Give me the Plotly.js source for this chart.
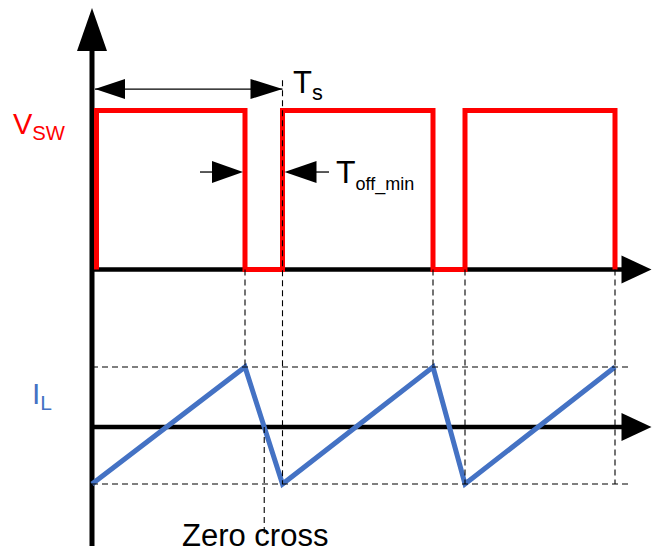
<!DOCTYPE html>
<html><head><meta charset="utf-8">
<script src="https://cdn.plot.ly/plotly-3.0.1.min.js"></script>
<style>html,body{margin:0;padding:0;background:#fff;}#chart{width:652px;height:555px;}</style>
</head><body><div id="chart"></div>
<script>
// ---- data (time in arbitrary units) ----
// Switch-node voltage V_SW: 0 = low, 1 = high
const vswTime  = [0.045, 0.045, 1.53, 1.53, 1.905, 1.905, 3.41, 3.41, 3.73, 3.73, 5.23, 5.23];
const vswLevel = [0, 1, 1, 0, 0, 1, 1, 0, 0, 1, 1, 0];
// Inductor current I_L corner points (normalised)
const ilTime  = [0, 1.53, 1.905, 3.41, 3.73, 5.23];
const ilValue = [-0.95, 1, -0.95, 1, -0.95, 1];
// labels
const labelVsw = 'V<sub>SW</sub>';
const labelIl = 'I<sub>L</sub>';
const labelTs = 'T<sub>s</sub>';
const labelToff = 'T<sub><span style="font-size:18px">off_min</span></sub>';
const labelZero = 'Zero cross';

// ---- layout helpers ----
const xR = [-0.92, 5.60];
const yR = [-1.796, 1.695];     // V_SW axis
const y2R = [-2.1333, 7.1167];  // I_L axis
const pY = v => (v - yR[0]) / (yR[1] - yR[0]);
const pY2 = v => (v - y2R[0]) / (y2R[1] - y2R[0]);
const FONT = 'Liberation Sans, Arial, sans-serif';

const ilPeak = Math.max(...ilValue), ilValley = Math.min(...ilValue);
// zero crossing of the first falling edge
const zc = ilTime[1] + (ilTime[2] - ilTime[1]) * (ilValue[1] / (ilValue[1] - ilValue[2]));
const tsLevel = 1.135, toffLevel = 0.613;

const dash = {color: '#000', width: 1.1, dash: '6px,4px'};
const shapes = [];
function vDash(x, p0, p1) { shapes.push({type:'line', xref:'x', yref:'paper', x0:x, x1:x, y0:p0, y1:p1, line:dash, layer:'above'}); }
vDash(ilTime[1], pY(0), pY2(ilPeak));
vDash(ilTime[2], pY(tsLevel + 0.055), pY2(ilValley));
vDash(ilTime[3], pY(0), pY2(ilPeak));
vDash(ilTime[4], pY(0), pY2(ilValley));
vDash(ilTime[5], pY(0), pY2(ilValley));
vDash(zc, pY2(0), 21/555);
[ilPeak, ilValley].forEach(v => shapes.push({type:'line', xref:'x', yref:'y2', x0:0, x1:5.40, y0:v, y1:v, line:dash, layer:'above'}));

// axes
shapes.push({type:'line', xref:'x', yref:'paper', x0:0, x1:0, y0:9/555, y1:1-46/555, line:{color:'#000', width:5}, layer:'below'});
shapes.push({type:'path', xref:'x', yref:'paper', xsizemode:'pixel', ysizemode:'pixel', xanchor:0, yanchor:1-8/555,
  path:'M0,0 L-15,-43 L15,-43 Z', fillcolor:'#000', line:{width:0}});
[['y',0],['y2',0]].forEach(([ref,v]) => {
  shapes.push({type:'line', xref:'x', yref:ref, x0:0, x1:5.33, y0:v, y1:v, line:{color:'#000', width:4.5}, layer:'below'});
  shapes.push({type:'path', xref:'x', yref:ref, xsizemode:'pixel', ysizemode:'pixel', xanchor:5.595, yanchor:v,
    path:'M0,0 L-30,14 L-30,-14 Z', fillcolor:'#000', line:{width:0}});
});
// Ts arrow
shapes.push({type:'line', xref:'x', yref:'y', x0:0.03, x1:ilTime[2], y0:tsLevel, y1:tsLevel, line:{color:'#000', width:1.3}});
shapes.push({type:'path', xref:'x', yref:'y', xsizemode:'pixel', ysizemode:'pixel', xanchor:0.03, yanchor:tsLevel,
  path:'M0,0 L30,10 L30,-10 Z', fillcolor:'#000', line:{width:0}});
shapes.push({type:'path', xref:'x', yref:'y', xsizemode:'pixel', ysizemode:'pixel', xanchor:ilTime[2], yanchor:tsLevel,
  path:'M0,0 L-32,10 L-32,-10 Z', fillcolor:'#000', line:{width:0}});
// Toff_min arrows
shapes.push({type:'line', xref:'x', yref:'y', x0:1.08, x1:ilTime[1]-0.3, y0:toffLevel, y1:toffLevel, line:{color:'#000', width:1.3}});
shapes.push({type:'path', xref:'x', yref:'y', xsizemode:'pixel', ysizemode:'pixel', xanchor:ilTime[1], yanchor:toffLevel,
  path:'M-2,0 L-33,11 L-33,-11 Z', fillcolor:'#000', line:{width:0}});
shapes.push({type:'line', xref:'x', yref:'y', x0:ilTime[2]+0.3, x1:2.37, y0:toffLevel, y1:toffLevel, line:{color:'#000', width:1.3}});
shapes.push({type:'path', xref:'x', yref:'y', xsizemode:'pixel', ysizemode:'pixel', xanchor:ilTime[2], yanchor:toffLevel,
  path:'M2,0 L34,11 L34,-11 Z', fillcolor:'#000', line:{width:0}});

const annotations = [
  {text: labelVsw, xref:'x', yref:'y', x:-0.81, y:0.90, xanchor:'left', yanchor:'middle', showarrow:false, font:{family:FONT, size:29, color:'#ff0000'}},
  {text: labelIl, xref:'x', yref:'y2', x:-0.62, y:0.52, xanchor:'left', yanchor:'middle', showarrow:false, font:{family:FONT, size:30, color:'#4472c4'}},
  {text: labelTs, xref:'x', yref:'y', x:1.99, y:1.16, xanchor:'left', yanchor:'middle', showarrow:false, font:{family:FONT, size:31, color:'#000'}},
  {text: labelToff, xref:'x', yref:'y', x:2.42, y:0.60, xanchor:'left', yanchor:'middle', showarrow:false, font:{family:FONT, size:32, color:'#000'}},
  {text: labelZero, xref:'x', yref:'paper', x:0.88, y:0, xanchor:'left', yanchor:'bottom', showarrow:false, font:{family:FONT, size:31, color:'#000'}}
];

const traces = [
  {x: vswTime, y: vswLevel, yaxis:'y', mode:'lines', line:{color:'#ff0000', width:5}, hoverinfo:'skip'},
  {x: ilTime, y: ilValue, yaxis:'y2', mode:'lines', line:{color:'#4472c4', width:5}, hoverinfo:'skip'}
];
const layout = {
  width:652, height:555, margin:{l:0, r:0, t:0, b:0},
  paper_bgcolor:'#fff', plot_bgcolor:'#fff', showlegend:false,
  xaxis:{range:xR, visible:false, fixedrange:true},
  yaxis:{range:yR, visible:false, fixedrange:true, domain:[0,1]},
  yaxis2:{range:y2R, visible:false, fixedrange:true, overlaying:'y'},
  shapes: shapes, annotations: annotations
};
Plotly.newPlot('chart', traces, layout, {staticPlot:true, displayModeBar:false});
</script></body></html>
